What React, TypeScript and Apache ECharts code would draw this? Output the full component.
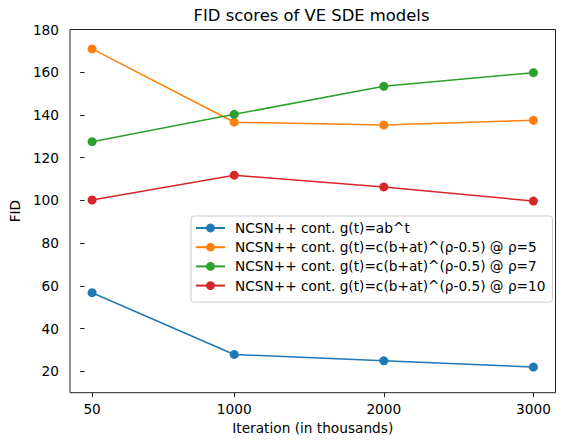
import React, { useEffect, useRef } from "react";
import * as echarts from "echarts";

const iterations = [50, 1000, 2000, 3000];
const xTicks = [50, 1000, 2000, 3000];
const yTicks = [20, 40, 60, 80, 100, 120, 140, 160, 180];

const seriesNames = [
  "NCSN++ cont. g(t)=ab^t",
  "NCSN++ cont. g(t)=c(b+at)^(ρ-0.5) @ ρ=5",
  "NCSN++ cont. g(t)=c(b+at)^(ρ-0.5) @ ρ=7",
  "NCSN++ cont. g(t)=c(b+at)^(ρ-0.5) @ ρ=10",
];
const expValues = [56.8, 27.9, 24.9, 22.0];
const rho5Values = [170.9, 136.6, 135.3, 137.5];
const rho7Values = [127.5, 140.3, 153.4, 159.8];
const rho10Values = [100.2, 111.8, 106.3, 99.7];
const colors = ["#1f77b4", "#ff7f0e", "#2ca02c", "#d62728"];

const FONT = "DejaVu Sans";

export default function App() {
  const ref = useRef<HTMLDivElement>(null);
  useEffect(() => {
    if (!ref.current) return;
    const chart = echarts.init(ref.current, null, { renderer: "svg" });
    const allValues = [expValues, rho5Values, rho7Values, rho10Values];
    const series = allValues.map((vals, i) => ({
      name: seriesNames[i],
      type: "line",
      data: iterations.map((x, j) => [x, vals[j]]),
      symbol: "circle",
      symbolSize: 9,
      color: colors[i],
      lineStyle: { width: 1.5, color: colors[i] },
      itemStyle: { color: colors[i] },
      emphasis: { disabled: true },
    }));
    chart.setOption({
      animation: false,
      textStyle: { fontFamily: FONT },
      grid: {
        left: 69,
        right: 6.5,
        top: 29.5,
        bottom: 47.3,
        show: true,
        borderColor: "#222",
        borderWidth: 1,
        backgroundColor: "#fff",
      },
      graphic: [
        {
          type: "text",
          x: 311.5,
          y: 15.5,
          style: {
            text: "FID scores of VE SDE models",
            fontFamily: FONT,
            fontSize: 16.4,
            fill: "#000",
            textAlign: "center",
            textVerticalAlign: "middle",
          },
        },
      ],
      xAxis: {
        type: "value",
        min: -97.5,
        max: 3147.5,
        name: "Iteration (in thousands)",
        nameLocation: "middle",
        nameGap: 27,
        nameTextStyle: { fontFamily: FONT, fontSize: 13.7, color: "#000" },
        axisLine: { show: false },
        splitLine: { show: false },
        axisTick: {
          show: true,
          length: 4.5,
          customValues: xTicks,
          lineStyle: { color: "#222", width: 1 },
        },
        axisLabel: {
          customValues: xTicks,
          formatter: (v: number) => String(v),
          margin: 9,
          fontFamily: FONT,
          fontSize: 13.7,
          color: "#000",
        },
      },
      yAxis: {
        type: "value",
        min: 10,
        max: 180,
        name: "FID",
        nameLocation: "middle",
        nameGap: 40,
        nameTextStyle: { fontFamily: FONT, fontSize: 13.7, color: "#000" },
        axisLine: { show: false },
        splitLine: { show: false },
        axisTick: {
          show: true,
          length: 4.5,
          customValues: yTicks,
          lineStyle: { color: "#222", width: 1 },
        },
        axisLabel: {
          customValues: yTicks,
          formatter: (v: number) => String(v),
          margin: 11,
          fontFamily: FONT,
          fontSize: 13.7,
          color: "#000",
        },
      },
      legend: {
        orient: "vertical",
        left: 191,
        top: 216,
        padding: [4, 7, 8.5, 4],
        itemWidth: 29,
        itemHeight: 11,
        itemGap: 3.2,
        borderColor: "#ccc",
        borderWidth: 1,
        borderRadius: 3,
        backgroundColor: "rgba(255,255,255,0.8)",
        data: seriesNames,
        textStyle: {
          fontFamily: FONT,
          fontSize: 13.7,
          color: "#000",
          lineHeight: 16,
          padding: [0, 0, 0, 5],
        },
      },
      series,
    });
    return () => chart.dispose();
  }, []);
  return (
    <div
      ref={ref}
      style={{ position: "fixed", left: 0, top: 0, width: 562, height: 440, background: "#fff" }}
    />
  );
}
